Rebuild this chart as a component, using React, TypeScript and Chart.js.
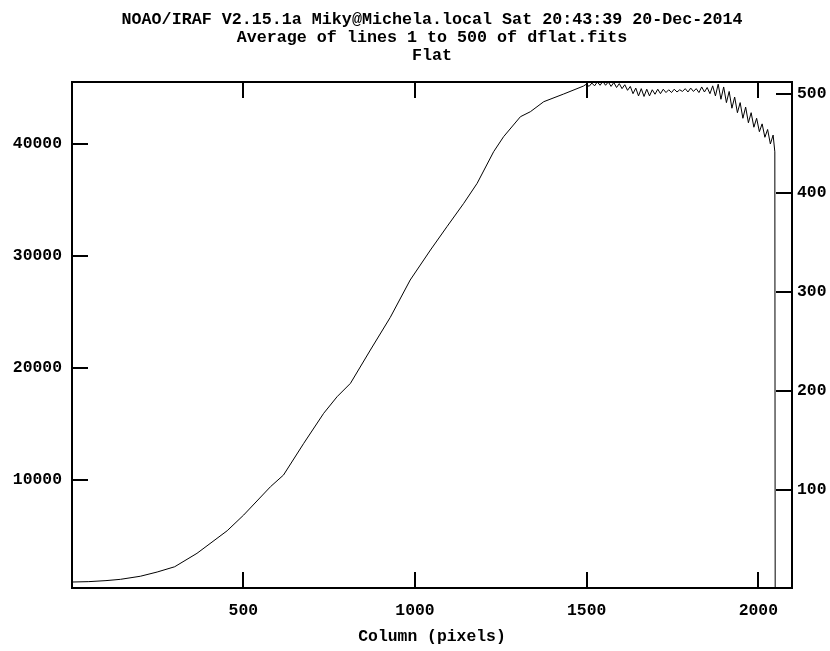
import React, { useEffect, useRef } from "react";
import { Chart, registerables } from "chart.js";

Chart.register(...registerables);

const TITLE_LINES = [
  "NOAO/IRAF V2.15.1a Miky@Michela.local Sat 20:43:39 20-Dec-2014",
  "Average of lines 1 to 500 of dflat.fits",
  "Flat",
];
const X_TITLE = "Column (pixels)";

const X_TICKS = [500, 1000, 1500, 2000];
const Y_TICKS = [10000, 20000, 30000, 40000];
const Y2_TICKS = [100, 200, 300, 400, 500];

const COLUMNS = [
  1, 50, 100, 142, 200, 249, 300, 365, 453, 501, 579, 617, 676, 734, 773, 812,
  870, 928, 986, 1045, 1093, 1142, 1181, 1229, 1258, 1307, 1336, 1375, 1433,
  1491, 1499, 1507, 1515, 1523, 1531, 1539, 1547, 1555, 1563, 1571, 1579, 1587,
  1595, 1603, 1611, 1619, 1627, 1635, 1643, 1651, 1659, 1667, 1675, 1683, 1691,
  1699, 1707, 1715, 1723, 1731, 1739, 1747, 1755, 1763, 1771, 1779, 1787, 1795,
  1803, 1811, 1819, 1827, 1835, 1843, 1851, 1859, 1867, 1875, 1883, 1891, 1899,
  1907, 1915, 1923, 1931, 1939, 1947, 1955, 1963, 1971, 1979, 1987, 1995, 2003,
  2011, 2019, 2027, 2035, 2043, 2048, 2049, 2098,
];

const VALUES = [
  834, 870, 960, 1075, 1350, 1728, 2200, 3400, 5421, 6825, 9356, 10402, 13237,
  15919, 17403, 18602, 21579, 24500, 27839, 30521, 32605, 34697, 36486, 39311,
  40653, 42441, 42888, 43783, 44471,
  45186, 45350, 45150, 45450, 45200, 45550, 45250, 45600, 45250, 45550, 45150,
  45500, 45050, 45400, 44950, 45300, 44800, 45150, 44500, 45000, 44300, 44950,
  44250, 44900, 44300, 44850, 44450, 44900, 44500, 44900, 44600, 44850, 44600,
  44900, 44650, 44850, 44700, 44950, 44650, 45000, 44700, 44950, 44600, 45100,
  44650, 45050, 44500, 45200, 44300, 45350, 44000, 45100, 43700, 44700, 43200,
  44200, 42800, 43700, 42300, 43300, 41900, 42800, 41500, 42300, 41100, 41800,
  40600, 41300, 40000, 40800, 39300, 0, 0,
];

const X_MIN = 1;
const X_MAX = 2098;
const Y_MIN = 300;
const Y_MAX = 45544;
const Y2_MIN = 1;
const Y2_MAX = 512;

const FONT_FAMILY = '"Liberation Mono", "DejaVu Sans Mono", monospace';

const irafPlugin = {
  id: "irafFrame",
  afterDraw(chart: any) {
    const { ctx, chartArea: a } = chart;
    const L = 16;
    ctx.save();
    ctx.strokeStyle = "#000";
    ctx.lineWidth = 2;
    ctx.strokeRect(a.left, a.top, a.right - a.left, a.bottom - a.top);
    ctx.beginPath();
    const sx = chart.scales.x;
    X_TICKS.forEach((v) => {
      const x = Math.round(sx.getPixelForValue(v));
      ctx.moveTo(x, a.bottom);
      ctx.lineTo(x, a.bottom - L);
      ctx.moveTo(x, a.top);
      ctx.lineTo(x, a.top + L);
    });
    const sy = chart.scales.y;
    Y_TICKS.forEach((v) => {
      const y = Math.round(sy.getPixelForValue(v));
      ctx.moveTo(a.left, y);
      ctx.lineTo(a.left + L, y);
    });
    const sy2 = chart.scales.y2;
    Y2_TICKS.forEach((v) => {
      const y = Math.round(sy2.getPixelForValue(v));
      ctx.moveTo(a.right, y);
      ctx.lineTo(a.right - L, y);
    });
    ctx.stroke();

    ctx.fillStyle = "#000";
    ctx.font = "bold 16.7px " + FONT_FAMILY;
    ctx.textAlign = "center";
    ctx.textBaseline = "middle";
    const cx = (a.left + a.right) / 2;
    TITLE_LINES.forEach((t, i) => ctx.fillText(t, cx, 20 + i * 18));
    ctx.restore();
  },
};

export default function App() {
  const ref = useRef<HTMLCanvasElement | null>(null);

  useEffect(() => {
    if (!ref.current) return;
    const font = { family: FONT_FAMILY, size: 16.4, weight: "bold" as const };
    const data = COLUMNS.map((c, i) => ({ x: c, y: VALUES[i] }));
    const chart = new Chart(ref.current, {
      type: "line",
      data: {
        datasets: [
          {
            data,
            xAxisID: "x",
            yAxisID: "y",
            borderColor: "#000",
            borderWidth: 1,
            pointRadius: 0,
            tension: 0,
            fill: false,
          },
        ],
      },
      options: {
        animation: false,
        responsive: false,
        devicePixelRatio: 1,
        events: [],
        layout: { padding: 0 },
        plugins: {
          legend: { display: false },
          tooltip: { enabled: false },
          title: { display: false },
        },
        scales: {
          x: {
            type: "linear",
            position: "bottom",
            min: X_MIN,
            max: X_MAX,
            afterBuildTicks: (s: any) => {
              s.ticks = X_TICKS.map((v) => ({ value: v }));
            },
            grid: { display: false, drawTicks: false },
            border: { display: false },
            ticks: {
              font,
              color: "#000",
              padding: 13,
              maxRotation: 0,
              autoSkip: false,
              callback: (v: any) => String(v),
            },
            title: {
              display: true,
              text: X_TITLE,
              font,
              color: "#000",
              padding: { top: 0, bottom: 4 },
            },
            afterFit: (s: any) => {
              s.height = 63;
            },
          },
          x2: {
            type: "linear",
            position: "top",
            min: X_MIN,
            max: X_MAX,
            grid: { display: false, drawTicks: false },
            border: { display: false },
            ticks: { display: false },
            afterFit: (s: any) => {
              s.height = 82;
            },
          },
          y: {
            type: "linear",
            position: "left",
            min: Y_MIN,
            max: Y_MAX,
            afterBuildTicks: (s: any) => {
              s.ticks = Y_TICKS.map((v) => ({ value: v }));
            },
            grid: { display: false, drawTicks: false },
            border: { display: false },
            ticks: {
              font,
              color: "#000",
              padding: 10,
              callback: (v: any) => String(v),
            },
            afterFit: (s: any) => {
              s.width = 72;
            },
          },
          y2: {
            type: "linear",
            position: "right",
            min: Y2_MIN,
            max: Y2_MAX,
            afterBuildTicks: (s: any) => {
              s.ticks = Y2_TICKS.map((v) => ({ value: v }));
            },
            grid: { display: false, drawTicks: false },
            border: { display: false },
            ticks: {
              font,
              color: "#000",
              padding: 5,
              callback: (v: any) => String(v),
            },
            afterFit: (s: any) => {
              s.width = 38;
            },
          },
        },
      },
      plugins: [irafPlugin],
    } as any);
    return () => chart.destroy();
  }, []);

  return (
    <div
      style={{
        position: "absolute",
        left: 0,
        top: 0,
        width: 830,
        height: 651,
        background: "#fff",
      }}
    >
      <canvas ref={ref} width={830} height={651} style={{ display: "block" }} />
    </div>
  );
}
